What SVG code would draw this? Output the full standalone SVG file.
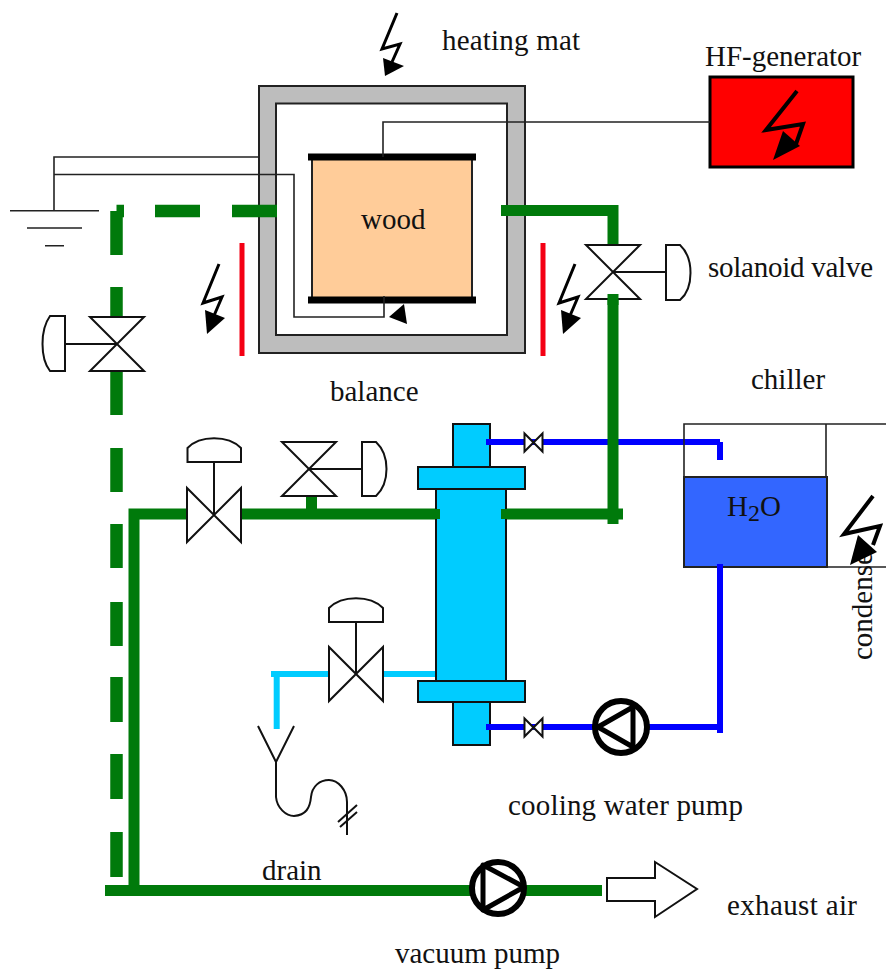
<svg xmlns="http://www.w3.org/2000/svg" width="886" height="970" viewBox="0 0 886 970">
<defs>
<style>
text{font-family:"Liberation Serif","Times New Roman",serif;font-size:29px;fill:#111}
.w{fill:none;stroke:#222;stroke-width:1.6}
.k{fill:#fff;stroke:#111;stroke-width:2}
.o{fill:none;stroke:#111;stroke-width:2}
.g{fill:none;stroke:#007a0b;stroke-width:11}
.gd{fill:none;stroke:#007a0b;stroke-width:12.5}
.b{fill:none;stroke:#0000ff;stroke-width:6}
.c{fill:none;stroke:#00ccff;stroke-width:6}
.box{fill:#00ccff;stroke:#111;stroke-width:2}
.bl{fill:none;stroke:#000;stroke-width:3}
.pump{fill:#fff;stroke:#000;stroke-width:6}
</style>
<g id="bowtie-v"><path class="k" d="M-27-27H27L-27 27H27Z"/></g>
<g id="bowtie-h"><path class="k" d="M-27-27V27L27-27V27Z"/></g>
<g id="bolt"><path class="bl" d="M15-32-1 7 18 1 9 22"/><path d="M1 14 21 22 3 38Z"/></g>
</defs>
<rect width="886" height="970" fill="#fff"/>

<g id="oven">
<rect x="259" y="86" width="266" height="267" fill="#bdbdbd" stroke="#222" stroke-width="2"/>
<rect x="276" y="103.500" width="231" height="231.500" fill="#fff" stroke="#222" stroke-width="2"/>
</g>
<g id="wood">
<rect x="312" y="157" width="160" height="143" fill="#ffcc99" stroke="#222" stroke-width="2"/>
<rect x="308" y="153.500" width="168" height="7"/>
<rect x="308" y="296.500" width="168" height="7"/>
<text x="361" y="229">wood</text>
</g>
<g id="hf-generator">
<rect x="710" y="77" width="143" height="90" fill="#ff0000" stroke="#000" stroke-width="3"/>
<path class="bl" style="stroke-width:4" d="M797 91 766 130 803 124 796 144"/><path d="M783 131 800 146 773 160Z"/>
<text x="705" y="66">HF-generator</text>
</g>

<g id="connectors">
<path class="w" d="M383 157V122H710M54 210V157H259M54 174.500H294V317H384V296"/>
<path class="w" d="M10 210.700H99M27 228H82M45 245.700H64" />
<path class="gd" d="M116.500 317V287M116.500 255V211M116.500 211H124M155 211H200M232 211H277"/>
<path class="gd" d="M116.500 372V415M116.500 448V492M116.500 524V568M116.500 602V646M116.500 677V722M116.500 754V799M116.500 832V877"/>
<path class="b" d="M487 442H720"/><path class="b" d="M720 442V460"/>
<path class="b" d="M720 564V733M487 727H720" />
<path class="g" d="M501 210.500H613V246M613 294V524M501 514H623M134 890V514H188M241 514H440M311.500 514V495M105 890.500H602"/>
<path class="c" d="M383 674H436M329 674H271M276.700 671V729"/>
</g>

<g id="heat-exchanger">
<rect x="436" y="488" width="70" height="193" class="box"/>
<rect x="453" y="424" width="37" height="43" class="box"/>
<rect x="418" y="467" width="107" height="22" class="box"/>
<rect x="418" y="681" width="107" height="21" class="box"/>
<rect x="453" y="702" width="37" height="43" class="box"/>
<path class="b" d="M486 442H500M486 727H500"/>
<path class="g" style="stroke-width:10" d="M430 514H440M501 514H510"/>
</g>

<g id="valve-left">
<use href="#bowtie-v" x="117" y="344"/>
<path class="o" d="M117 344H65M65 316H50C40 330 40 358 50 371H65Z"/>
</g>
<g id="solenoid-valve">
<use href="#bowtie-v" x="613" y="272"/>
<path class="o" d="M613 272H666M666 245H680C694 258 694 288 680 300H666Z"/>
<path class="g" d="M613 294V305"/>
<text x="708" y="277" textLength="165">solanoid valve</text>
</g>
<g id="valve-drain">
<use href="#bowtie-h" x="214" y="515"/>
<path class="o" d="M214 515V462M187.500 462V448C200 435 228 435 241 448V462Z"/>
</g>
<g id="valve-branch">
<use href="#bowtie-v" x="309" y="469"/>
<path class="o" d="M309 469H362M362 442H376C390 455 390 483 376 496H362Z"/>
</g>
<g id="valve-cyan">
<use href="#bowtie-h" x="356" y="674"/>
<path class="o" d="M356 674V622M329 622V608C342 595 370 595 383 608V622Z"/>
</g>
<g id="valve-small-top"><path class="k" d="M524.500 433.500V451.500L542.500 433.500V451.500Z"/></g>
<g id="valve-small-bottom"><path class="k" d="M524.500 718.500V736.500L542.500 718.500V736.500Z"/></g>

<g id="cooling-water-pump">
<circle class="pump" cx="621" cy="727" r="26"/>
<path d="M598 727 633 707V747Z" fill="none" stroke="#000" stroke-width="5" stroke-linejoin="round"/>
<text x="508" y="815" textLength="235">cooling water pump</text>
</g>
<g id="vacuum-pump">
<circle class="pump" cx="498" cy="888" r="26"/>
<path d="M524 887 483 865V910Z" fill="none" stroke="#000" stroke-width="5" stroke-linejoin="round"/>
<text x="395" y="963">vacuum pump</text>
</g>
<g id="exhaust-air">
<path class="k" d="M607 878H655V862L697 889 655 917V901H607Z"/>
<text x="727" y="915" textLength="130">exhaust air</text>
</g>
<g id="drain-funnel">
<path class="o" d="M258 726 276 762 294 726M276 762V797C277 808 286 816 294 816 306 815 310 808 311 797 312 786 320 780 329 780 338 780 347 790 347 802V835M338 822 357 805M340 827 357 812"/>
<text x="262" y="880">drain</text>
</g>
<g id="chiller">
<path class="w" d="M684 477V424H886M826 424V477M827 567H886"/>
<rect x="684" y="477" width="143" height="90" fill="#3366ff" stroke="#222" stroke-width="2"/>
<path class="b" d="M720 442V460M720 564V580"/>
<text x="727" y="516">H<tspan font-size="24" dy="5">2</tspan><tspan dy="-5">O</tspan></text>
<text x="751" y="389">chiller</text>
</g>
<g id="condenser">
<text transform="translate(872 660) rotate(-90)">condense</text>
<path class="bl" style="stroke-width:4" d="M873 496 844 534 880 526 873 545"/><path d="M858 535 877 552 850 565Z"/>
</g>
<g id="heating-mat">
<path class="bl" d="M397 13 382 49 400 44 392 62"/><path d="M383 58 404 66 385 76Z"/>
<text x="442" y="50" textLength="138">heating mat</text>
</g>
<g id="heater-left"><rect x="239.500" y="243" width="5" height="113" fill="#f40014"/><use href="#bolt" x="204" y="296"/></g>
<g id="heater-right"><rect x="540.500" y="243" width="5" height="113" fill="#f40014"/><use href="#bolt" x="560" y="296"/></g>
<g id="balance">
<path d="M404 304 389 317 407 324Z"/>
<text x="330" y="401">balance</text>
</g>
</svg>
